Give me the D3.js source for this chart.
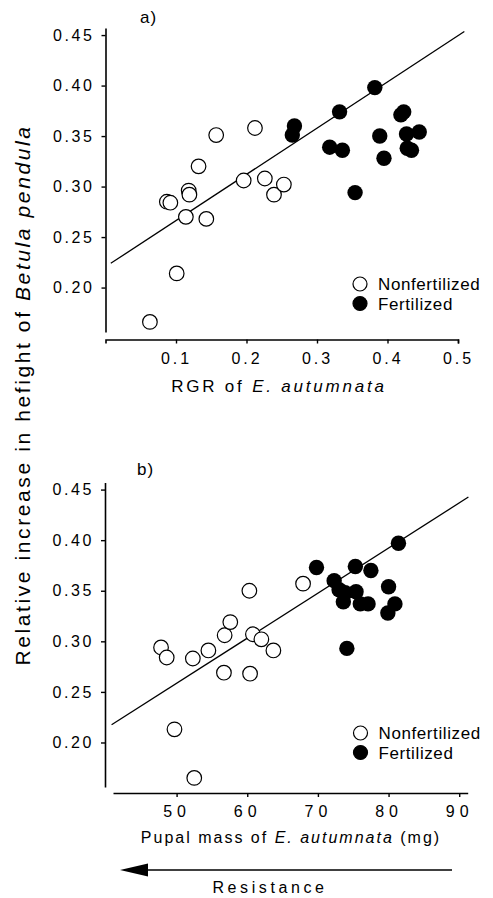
<!DOCTYPE html>
<html>
<head>
<meta charset="utf-8">
<script src="https://cdn.jsdelivr.net/npm/d3@7/dist/d3.min.js"></script>
<style>
  html, body { margin: 0; padding: 0; background: #fff; }
  svg { display: block; }
  text { font-family: "Liberation Sans", Arial, Helvetica, sans-serif; fill: #000; }
</style>
</head>
<body>
<svg id="chart" width="493" height="898"></svg>
<script>
// ---------- DATA ----------
// Panel a: RGR of E. autumnata vs relative height increase
const rgrNonFert = [0.063, 0.101, 0.087, 0.092, 0.114, 0.118, 0.119, 0.143, 0.132, 0.157, 0.196, 0.212, 0.226, 0.239, 0.253];
const heightNonFertA = [0.166, 0.214, 0.285, 0.284, 0.270, 0.296, 0.292, 0.268, 0.320, 0.351, 0.306, 0.358, 0.308, 0.292, 0.302];
const rgrFert = [0.265, 0.268, 0.318, 0.332, 0.336, 0.354, 0.382, 0.389, 0.395, 0.419, 0.423, 0.427, 0.428, 0.434, 0.445];
const heightFertA = [0.351, 0.360, 0.339, 0.374, 0.336, 0.294, 0.398, 0.350, 0.328, 0.371, 0.374, 0.352, 0.338, 0.336, 0.354];
const fitA_x = [0.0075, 0.509];
const fitA_y = [0.224, 0.4535];

// Panel b: pupal mass of E. autumnata vs relative height increase
const massNonFert = [47.8, 48.6, 49.7, 52.3, 52.5, 54.5, 56.7, 56.8, 57.6, 60.3, 60.4, 60.8, 62.0, 63.7, 67.9];
const heightNonFertB = [0.294, 0.284, 0.213, 0.283, 0.165, 0.291, 0.269, 0.306, 0.319, 0.350, 0.268, 0.307, 0.302, 0.291, 0.357];
const massFert = [69.8, 72.3, 73.0, 73.6, 73.85, 74.1, 75.3, 75.4, 76.0, 77.1, 77.5, 79.9, 80.0, 80.9, 81.4];
const heightFertB = [0.373, 0.360, 0.351, 0.339, 0.348, 0.293, 0.374, 0.349, 0.337, 0.337, 0.370, 0.328, 0.354, 0.337, 0.397];
const fitB_x = [40.8, 91.3];
const fitB_y = [0.2175, 0.4426];

const yTicks = [0.20, 0.25, 0.30, 0.35, 0.40, 0.45];
const xTicksA = [0.1, 0.2, 0.3, 0.4, 0.5];
const xTicksB = [50, 60, 70, 80, 90];
const legendLabels = ["Nonfertilized", "Fertilized"];
const panelLabels = ["a)", "b)"];
const xTitleA = ["RGR of ", "E. autumnata", ""];
const xTitleB = ["Pupal mass of ", "E. autumnata", " (mg)"];
const yTitle = ["Relative increase in hefight of ", "Betula pendula"];
const arrowLabel = "Resistance";

// ---------- DRAWING ----------
const svg = d3.select("#chart");
const R = 7.3;

function drawPanel(p) {
  const g = svg.append("g");
  const x = d3.scaleLinear().domain(p.xDomain).range(p.xRange);
  const y = d3.scaleLinear().domain([0.156, 0.457]).range(p.yRange);

  // y axis
  const ya = g.append("g").attr("transform", `translate(${p.yAxisX},0)`)
    .call(d3.axisLeft(y).tickValues(yTicks).tickSize(4).tickSizeOuter(0).tickPadding(7)
      .tickFormat(d3.format(".2f")));
  ya.select(".domain").attr("stroke-width", 1.6);
  ya.selectAll(".tick line").attr("stroke-width", 1.4);
  ya.selectAll(".tick text").style("font-size", "16px").style("letter-spacing", "2.6px")
    .attr("font-family", null);

  // x axis
  const xa = g.append("g").attr("transform", `translate(0,${p.xAxisY})`)
    .call(d3.axisBottom(x).tickValues(p.xTicks).tickSize(4).tickSizeOuter(p.outer).tickPadding(9)
      .tickFormat(p.fmt));
  xa.select(".domain").attr("stroke-width", 1.6);
  xa.selectAll(".tick line").attr("stroke-width", 1.4);
  xa.selectAll(".tick text").style("font-size", "16px").style("letter-spacing", p.tickLs)
    .attr("font-family", null);

  // regression line
  g.append("line")
    .attr("x1", x(p.fitX[0])).attr("y1", y(p.fitY[0]))
    .attr("x2", x(p.fitX[1])).attr("y2", y(p.fitY[1]))
    .attr("stroke", "#000").attr("stroke-width", 1.3);

  // points
  g.selectAll("circle.nf").data(d3.zip(p.nfX, p.nfY)).join("circle")
    .attr("class", "nf")
    .attr("cx", d => x(d[0])).attr("cy", d => y(d[1])).attr("r", R)
    .attr("fill", "#fff").attr("stroke", "#000").attr("stroke-width", 1.2);
  g.selectAll("circle.f").data(d3.zip(p.fX, p.fY)).join("circle")
    .attr("class", "f")
    .attr("cx", d => x(d[0])).attr("cy", d => y(d[1])).attr("r", R + 0.4)
    .attr("fill", "#000");

  // legend
  const lg = g.append("g").attr("transform", `translate(${p.legend[0]},${p.legend[1]})`);
  legendLabels.forEach((lab, i) => {
    lg.append("circle").attr("cx", 0).attr("cy", i * 19.5).attr("r", 7)
      .attr("fill", i ? "#000" : "#fff").attr("stroke", "#000").attr("stroke-width", 1.2);
    lg.append("text").attr("x", 18).attr("y", i * 19.5 + 6)
      .style("font-size", "17px").style("letter-spacing", "0.6px").text(lab);
  });

  // panel label
  g.append("text").attr("x", p.label[0]).attr("y", p.label[1])
    .style("font-size", "17px").style("letter-spacing", "1px").text(p.labelText);

  // x title
  const t = g.append("text").attr("x", p.title[0]).attr("y", p.title[1])
    .attr("text-anchor", "middle").style("font-size", p.titleSize).style("letter-spacing", p.titleLs);
  t.append("tspan").text(p.titleParts[0]);
  t.append("tspan").style("font-style", "italic").text(p.titleParts[1]);
  if (p.titleParts[2]) t.append("tspan").text(p.titleParts[2]);
}

drawPanel({
  xDomain: [0, 0.5], xRange: [105.5, 458], yRange: [332, 28],
  yAxisX: 105.5, xAxisY: 339.5, xTicks: xTicksA, outer: 4, fmt: d3.format(".1f"), tickLs: "3px",
  fitX: fitA_x, fitY: fitA_y,
  nfX: rgrNonFert, nfY: heightNonFertA, fX: rgrFert, fY: heightFertA,
  legend: [360, 284], label: [140, 23], labelText: panelLabels[0],
  title: [279, 392], titleParts: xTitleA, titleSize: "17px", titleLs: "2.8px"
});

drawPanel({
  xDomain: [41, 91.2], xRange: [113, 467.7], yRange: [787, 482.5],
  yAxisX: 105, xAxisY: 793, xTicks: xTicksB, outer: 0, fmt: d3.format("d"), tickLs: "5px",
  fitX: fitB_x, fitY: fitB_y,
  nfX: massNonFert, nfY: heightNonFertB, fX: massFert, fY: heightFertB,
  legend: [360.5, 733], label: [137, 475], labelText: panelLabels[1],
  title: [291, 843], titleParts: xTitleB, titleSize: "16px", titleLs: "2px"
});

// shared y title
const yt = svg.append("text")
  .attr("transform", "translate(30,395) rotate(-90)")
  .attr("text-anchor", "middle")
  .style("font-size", "21px").style("letter-spacing", "2.6px");
yt.append("tspan").text(yTitle[0]);
yt.append("tspan").style("font-style", "italic").text(yTitle[1]);

// resistance arrow
svg.append("line").attr("x1", 452).attr("y1", 870).attr("x2", 145).attr("y2", 870)
  .attr("stroke", "#000").attr("stroke-width", 1.5);
svg.append("path").attr("d", "M120,870 L148,863.5 L148,876.5 Z").attr("fill", "#000");
svg.append("text").attr("x", 270).attr("y", 893).attr("text-anchor", "middle")
  .style("font-size", "16px").style("letter-spacing", "3.6px").text(arrowLabel);
</script>
</body>
</html>
